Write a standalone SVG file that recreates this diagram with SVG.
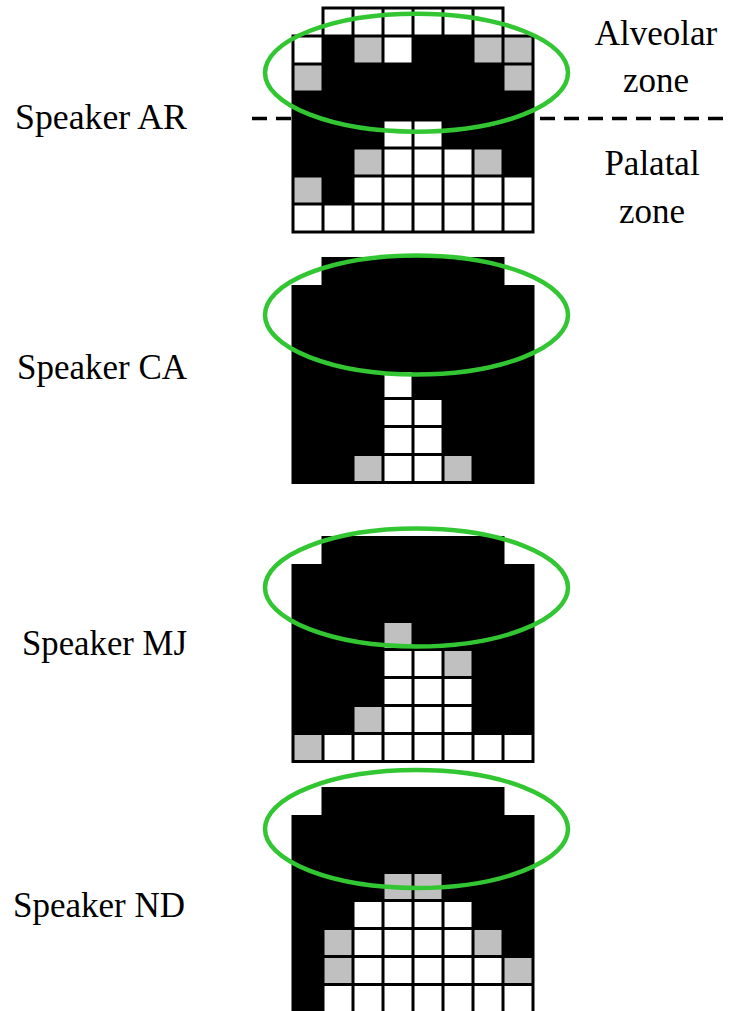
<svg xmlns="http://www.w3.org/2000/svg" width="732" height="1011" viewBox="0 0 732 1011">
  <style>
    .bg { fill: #000; }
    .w { fill: #fff; }
    .g { fill: #c0c0c0; }
    .zone { fill: none; stroke: #33c633; stroke-width: 4.5; }
    .lbl { font-family: "Liberation Serif", "Times New Roman", Times, serif; font-size: 35px; fill: #000; }
    .mid { text-anchor: middle; }
    .divider { fill: none; stroke: #000; stroke-width: 3.5; stroke-dasharray: 15 9; }
  </style>

  <rect width="732" height="1011" fill="#fff"/>

  <!-- alveolar / palatal divider -->
  <g id="connectors">
    <line class="divider" x1="252" y1="118.5" x2="730" y2="118.5"/>
  </g>

  <!-- zone labels -->
  <g id="zone-labels">
    <text class="lbl mid" x="656" y="45">Alveolar</text>
    <text class="lbl mid" x="656" y="92">zone</text>
    <text class="lbl mid" x="652" y="175">Palatal</text>
    <text class="lbl mid" x="652" y="223">zone</text>
  </g>

  <!-- Speaker AR: 8x8 contact grid (top row has 6 electrodes) -->
  <g id="speaker-ar">
    <text class="lbl" x="15" y="129" textLength="172" lengthAdjust="spacingAndGlyphs">Speaker AR</text>
    <g transform="translate(0,8)">
      <rect class="bg" x="321.5" y="-1.5" width="183" height="31"/>
      <rect class="bg" x="291.5" y="26.5" width="243" height="199"/>
      <rect class="w" x="324.5" y="1.5" width="27" height="25"/>
      <rect class="w" x="354.5" y="1.5" width="27" height="25"/>
      <rect class="w" x="384.5" y="1.5" width="27" height="25"/>
      <rect class="w" x="414.5" y="1.5" width="27" height="25"/>
      <rect class="w" x="444.5" y="1.5" width="27" height="25"/>
      <rect class="w" x="474.5" y="1.5" width="27" height="25"/>
      <rect class="w" x="294.5" y="29.5" width="27" height="25"/>
      <rect class="g" x="354.5" y="29.5" width="27" height="25"/>
      <rect class="w" x="384.5" y="29.5" width="27" height="25"/>
      <rect class="g" x="474.5" y="29.5" width="27" height="25"/>
      <rect class="g" x="504.5" y="29.5" width="27" height="25"/>
      <rect class="g" x="294.5" y="57.5" width="27" height="25"/>
      <rect class="g" x="504.5" y="57.5" width="27" height="25"/>
      <rect class="w" x="384.5" y="113.5" width="27" height="25"/>
      <rect class="w" x="414.5" y="113.5" width="27" height="25"/>
      <rect class="g" x="354.5" y="141.5" width="27" height="25"/>
      <rect class="w" x="384.5" y="141.5" width="27" height="25"/>
      <rect class="w" x="414.5" y="141.5" width="27" height="25"/>
      <rect class="w" x="444.5" y="141.5" width="27" height="25"/>
      <rect class="g" x="474.5" y="141.5" width="27" height="25"/>
      <rect class="g" x="294.5" y="169.5" width="27" height="25"/>
      <rect class="w" x="354.5" y="169.5" width="27" height="25"/>
      <rect class="w" x="384.5" y="169.5" width="27" height="25"/>
      <rect class="w" x="414.5" y="169.5" width="27" height="25"/>
      <rect class="w" x="444.5" y="169.5" width="27" height="25"/>
      <rect class="w" x="474.5" y="169.5" width="27" height="25"/>
      <rect class="w" x="504.5" y="169.5" width="27" height="25"/>
      <rect class="w" x="294.5" y="197.5" width="27" height="25"/>
      <rect class="w" x="324.5" y="197.5" width="27" height="25"/>
      <rect class="w" x="354.5" y="197.5" width="27" height="25"/>
      <rect class="w" x="384.5" y="197.5" width="27" height="25"/>
      <rect class="w" x="414.5" y="197.5" width="27" height="25"/>
      <rect class="w" x="444.5" y="197.5" width="27" height="25"/>
      <rect class="w" x="474.5" y="197.5" width="27" height="25"/>
      <rect class="w" x="504.5" y="197.5" width="27" height="25"/>
    </g>
    <ellipse class="zone" cx="416.5" cy="72.7" rx="151.5" ry="59"/>
  </g>

  <!-- Speaker CA -->
  <g id="speaker-ca">
    <text class="lbl" x="17" y="379" textLength="170" lengthAdjust="spacingAndGlyphs">Speaker CA</text>
    <g transform="translate(0,258.5)">
      <rect class="bg" x="321.5" y="-1.5" width="183" height="31"/>
      <rect class="bg" x="291.5" y="26.5" width="243" height="199"/>
      <rect class="w" x="384.5" y="113.5" width="27" height="25"/>
      <rect class="w" x="384.5" y="141.5" width="27" height="25"/>
      <rect class="w" x="414.5" y="141.5" width="27" height="25"/>
      <rect class="w" x="384.5" y="169.5" width="27" height="25"/>
      <rect class="w" x="414.5" y="169.5" width="27" height="25"/>
      <rect class="g" x="354.5" y="197.5" width="27" height="25"/>
      <rect class="w" x="384.5" y="197.5" width="27" height="25"/>
      <rect class="w" x="414.5" y="197.5" width="27" height="25"/>
      <rect class="g" x="444.5" y="197.5" width="27" height="25"/>
    </g>
    <ellipse class="zone" cx="416.5" cy="315" rx="151.5" ry="59.5"/>
  </g>

  <!-- Speaker MJ -->
  <g id="speaker-mj">
    <text class="lbl" x="22" y="655" textLength="165" lengthAdjust="spacingAndGlyphs">Speaker MJ</text>
    <g transform="translate(0,537.5)">
      <rect class="bg" x="321.5" y="-1.5" width="183" height="31"/>
      <rect class="bg" x="291.5" y="26.5" width="243" height="199"/>
      <rect class="g" x="384.5" y="85.5" width="27" height="25"/>
      <rect class="w" x="384.5" y="113.5" width="27" height="25"/>
      <rect class="w" x="414.5" y="113.5" width="27" height="25"/>
      <rect class="g" x="444.5" y="113.5" width="27" height="25"/>
      <rect class="w" x="384.5" y="141.5" width="27" height="25"/>
      <rect class="w" x="414.5" y="141.5" width="27" height="25"/>
      <rect class="w" x="444.5" y="141.5" width="27" height="25"/>
      <rect class="g" x="354.5" y="169.5" width="27" height="25"/>
      <rect class="w" x="384.5" y="169.5" width="27" height="25"/>
      <rect class="w" x="414.5" y="169.5" width="27" height="25"/>
      <rect class="w" x="444.5" y="169.5" width="27" height="25"/>
      <rect class="g" x="294.5" y="197.5" width="27" height="25"/>
      <rect class="w" x="324.5" y="197.5" width="27" height="25"/>
      <rect class="w" x="354.5" y="197.5" width="27" height="25"/>
      <rect class="w" x="384.5" y="197.5" width="27" height="25"/>
      <rect class="w" x="414.5" y="197.5" width="27" height="25"/>
      <rect class="w" x="444.5" y="197.5" width="27" height="25"/>
      <rect class="w" x="474.5" y="197.5" width="27" height="25"/>
      <rect class="w" x="504.5" y="197.5" width="27" height="25"/>
    </g>
    <ellipse class="zone" cx="416.5" cy="587.5" rx="151.5" ry="59"/>
  </g>

  <!-- Speaker ND -->
  <g id="speaker-nd">
    <text class="lbl" x="13" y="917" textLength="172" lengthAdjust="spacingAndGlyphs">Speaker ND</text>
    <g transform="translate(0,788.5)">
      <rect class="bg" x="321.5" y="-1.5" width="183" height="31"/>
      <rect class="bg" x="291.5" y="26.5" width="243" height="199"/>
      <rect class="g" x="384.5" y="85.5" width="27" height="25"/>
      <rect class="g" x="414.5" y="85.5" width="27" height="25"/>
      <rect class="w" x="354.5" y="113.5" width="27" height="25"/>
      <rect class="w" x="384.5" y="113.5" width="27" height="25"/>
      <rect class="w" x="414.5" y="113.5" width="27" height="25"/>
      <rect class="w" x="444.5" y="113.5" width="27" height="25"/>
      <rect class="g" x="324.5" y="141.5" width="27" height="25"/>
      <rect class="w" x="354.5" y="141.5" width="27" height="25"/>
      <rect class="w" x="384.5" y="141.5" width="27" height="25"/>
      <rect class="w" x="414.5" y="141.5" width="27" height="25"/>
      <rect class="w" x="444.5" y="141.5" width="27" height="25"/>
      <rect class="g" x="474.5" y="141.5" width="27" height="25"/>
      <rect class="g" x="324.5" y="169.5" width="27" height="25"/>
      <rect class="w" x="354.5" y="169.5" width="27" height="25"/>
      <rect class="w" x="384.5" y="169.5" width="27" height="25"/>
      <rect class="w" x="414.5" y="169.5" width="27" height="25"/>
      <rect class="w" x="444.5" y="169.5" width="27" height="25"/>
      <rect class="w" x="474.5" y="169.5" width="27" height="25"/>
      <rect class="g" x="504.5" y="169.5" width="27" height="25"/>
      <rect class="w" x="324.5" y="197.5" width="27" height="25"/>
      <rect class="w" x="354.5" y="197.5" width="27" height="25"/>
      <rect class="w" x="384.5" y="197.5" width="27" height="25"/>
      <rect class="w" x="414.5" y="197.5" width="27" height="25"/>
      <rect class="w" x="444.5" y="197.5" width="27" height="25"/>
      <rect class="w" x="474.5" y="197.5" width="27" height="25"/>
      <rect class="w" x="504.5" y="197.5" width="27" height="25"/>
    </g>
    <ellipse class="zone" cx="416.5" cy="829" rx="151.5" ry="59"/>
  </g>
</svg>
